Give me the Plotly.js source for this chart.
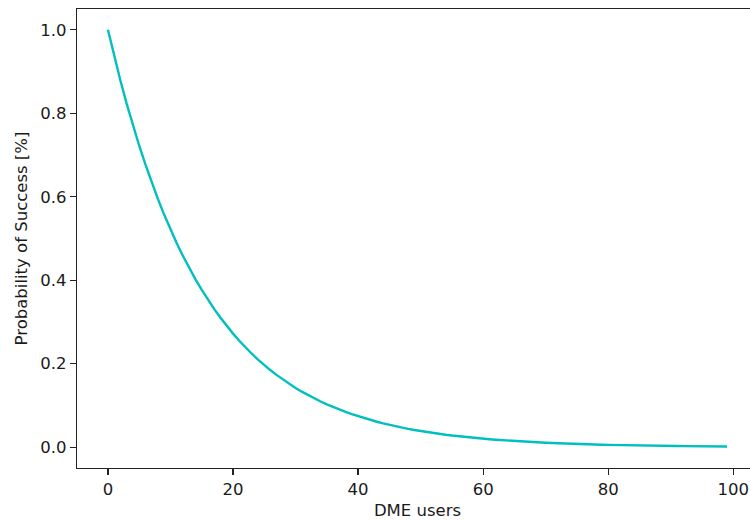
<!DOCTYPE html>
<html>
<head>
<meta charset="utf-8">
<script src="https://cdn.plot.ly/plotly-3.0.1.min.js"></script>
<style>html,body{margin:0;padding:0;overflow:hidden;background:#fff;}</style>
</head>
<body>
<div id="chart" style="width:760px;height:520px;"></div>
<script>
const users = [0,1,2,3,4,5,6,7,8,9,10,11,12,13,14,15,16,17,18,19,20,21,22,23,24,25,26,27,28,29,30,31,32,33,34,35,36,37,38,39,40,41,42,43,44,45,46,47,48,49,50,51,52,53,54,55,56,57,58,59,60,61,62,63,64,65,66,67,68,69,70,71,72,73,74,75,76,77,78,79,80,81,82,83,84,85,86,87,88,89,90,91,92,93,94,95,96,97,98,99];
const success = [1.0,0.937,0.8780,0.8227,0.7708,0.7223,0.6768,0.6341,0.5942,0.5567,
0.5217,0.4888,0.4580,0.4292,0.4021,0.3768,0.3530,0.3308,0.3100,0.2904,
0.2721,0.2550,0.2389,0.2239,0.2098,0.1966,0.1842,0.1726,0.1617,0.1515,
0.1420,0.1330,0.1246,0.1168,0.1094,0.1025,0.0961,0.0900,0.0844,0.0790,
0.0741,0.0694,0.0650,0.0609,0.0571,0.0535,0.0501,0.0470,0.0440,0.0412,
0.0386,0.0362,0.0339,0.0318,0.0298,0.0279,0.0261,0.0245,0.0230,0.0215,
0.0202,0.0189,0.0177,0.0166,0.0155,0.0146,0.0136,0.0128,0.0120,0.0112,
0.0105,0.0099,0.0092,0.0086,0.0081,0.0076,0.0071,0.0067,0.0062,0.0059,
0.0055,0.0051,0.0048,0.0045,0.0042,0.0040,0.0037,0.0035,0.0033,0.0031,
0.0029,0.0027,0.0025,0.0024,0.0022,0.0021,0.0019,0.0018,0.0017,0.0016];
const xTicks = [0,20,40,60,80,100];
const yTicks = [0.0,0.2,0.4,0.6,0.8,1.0];

const font = {family: 'DejaVu Sans, sans-serif', size: 16.5, color: '#1a1a1a'};
const axisCommon = {
  showgrid: false, zeroline: false, showline: true, mirror: true,
  linecolor: '#222', linewidth: 1.3, ticks: 'outside', ticklen: 6,
  tickwidth: 1.3, tickcolor: '#222', tickfont: font
};
Plotly.newPlot('chart', [{
  x: users, y: success, type: 'scatter', mode: 'lines',
  line: {color: '#00bfbf', width: 2.4}
}], {
  width: 760, height: 520,
  margin: {l: 77, r: 2, t: 9, b: 52},
  paper_bgcolor: '#fff', plot_bgcolor: '#fff',
  showlegend: false,
  font: font,
  xaxis: Object.assign({}, axisCommon, {
    range: [-4.95, 103.95], tickmode: 'array', tickvals: xTicks,
    title: {text: 'DME users', font: font, standoff: 6}
  }),
  yaxis: Object.assign({}, axisCommon, {
    range: [-0.0499, 1.0499], tickmode: 'array', tickvals: yTicks,
    tickformat: '.1f',
    title: {text: 'Probability of Success [%]', font: font, standoff: 8}
  })
}, {displayModeBar: false, staticPlot: true});
</script>
</body>
</html>
